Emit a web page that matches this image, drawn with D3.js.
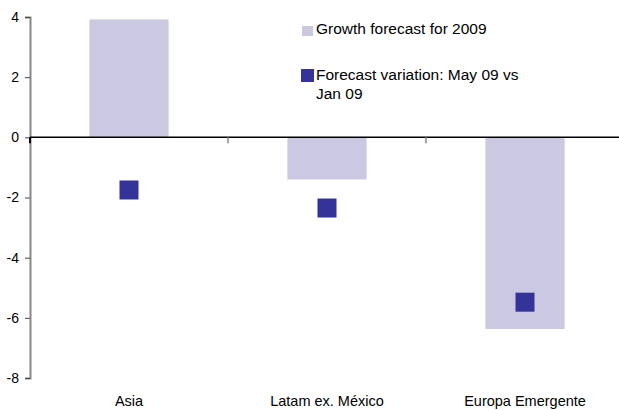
<!DOCTYPE html>
<html>
<head>
<meta charset="utf-8">
<script src="https://cdn.jsdelivr.net/npm/d3@7"></script>
<style>
  body { margin: 0; background: #fff; }
  svg { display: block; font-family: "Liberation Sans", Arial, sans-serif; }
</style>
</head>
<body>
<div id="chart"></div>
<script>
const categories = ['Asia', 'Latam ex. México', 'Europa Emergente'];
const growth2009 = [3.92, -1.4, -6.37];
const variation = [-1.75, -2.35, -5.48];
const yTicks = [4, 2, 0, -2, -4, -6, -8];
const legendLabels = ['Growth forecast for 2009', ['Forecast variation: May 09 vs', 'Jan 09']];

const BAR_COLOR = '#cbc9e1';
const MARK_COLOR = '#333399';

const width = 619, height = 410;
const svg = d3.select('#chart').append('svg')
  .attr('width', width).attr('height', height);

const y = d3.scaleLinear().domain([-8, 4]).range([378, 17]);
const x = d3.scaleBand().domain(categories).range([30, 624]).paddingInner(0).paddingOuter(0);

// Bars
svg.selectAll('.bar')
  .data(categories)
  .join('rect')
  .attr('x', (d) => x(d) + x.bandwidth() * 0.3)
  .attr('width', x.bandwidth() * 0.4)
  .attr('y', (d, i) => y(Math.max(0, growth2009[i])))
  .attr('height', (d, i) => Math.abs(y(growth2009[i]) - y(0)))
  .attr('fill', BAR_COLOR);

// Y axis (plain hyphen for negatives, like the original)
const yAxis = svg.append('g')
  .attr('transform', 'translate(30,0)')
  .call(d3.axisLeft(y).tickValues(yTicks).tickSize(5).tickPadding(6).tickFormat((d) => String(d)));
yAxis.select('.domain').attr('stroke', '#888').attr('stroke-width', 2);
yAxis.selectAll('.tick line').attr('stroke', '#444');
yAxis.selectAll('text').attr('font-size', '14px').attr('fill', '#000')
  .attr('font-family', '"Liberation Sans", Arial, sans-serif');

// Zero line with category ticks
svg.append('line')
  .attr('x1', 30).attr('x2', width)
  .attr('y1', y(0)).attr('y2', y(0))
  .attr('stroke', '#000').attr('stroke-width', 1.5);

svg.selectAll('.cat-tick')
  .data(categories)
  .join('line')
  .attr('x1', (d) => x(d)).attr('x2', (d) => x(d))
  .attr('y1', y(0)).attr('y2', y(0) + 6)
  .attr('stroke', (d, i) => i === 0 ? '#000' : '#888')
  .attr('stroke-width', (d, i) => i === 0 ? 2 : 1.5);

// Category labels at the bottom
svg.selectAll('.cat-label')
  .data(categories)
  .join('text')
  .attr('x', (d) => x(d) + x.bandwidth() / 2)
  .attr('y', 406)
  .attr('text-anchor', 'middle')
  .attr('font-size', '14.5px')
  .attr('fill', '#000')
  .text((d) => d);

// Markers
const ms = 19;
svg.selectAll('.marker')
  .data(categories)
  .join('rect')
  .attr('x', (d) => x(d) + x.bandwidth() / 2 - ms / 2)
  .attr('y', (d, i) => y(variation[i]) - ms / 2)
  .attr('width', ms).attr('height', ms)
  .attr('fill', MARK_COLOR);

// Legend
const lg = svg.append('g');
lg.append('rect').attr('x', 302).attr('y', 26).attr('width', 11).attr('height', 10).attr('fill', BAR_COLOR);
lg.append('text').attr('x', 316).attr('y', 34).attr('font-size', '15.5px').text(legendLabels[0]);
lg.append('rect').attr('x', 301).attr('y', 69).attr('width', 13).attr('height', 13).attr('fill', MARK_COLOR);
lg.append('text').attr('x', 316).attr('y', 80).attr('font-size', '15.5px')
  .selectAll('tspan')
  .data(legendLabels[1])
  .join('tspan')
  .attr('x', 316)
  .attr('dy', (d, i) => i === 0 ? 0 : 19)
  .text((d) => d);
</script>
</body>
</html>
